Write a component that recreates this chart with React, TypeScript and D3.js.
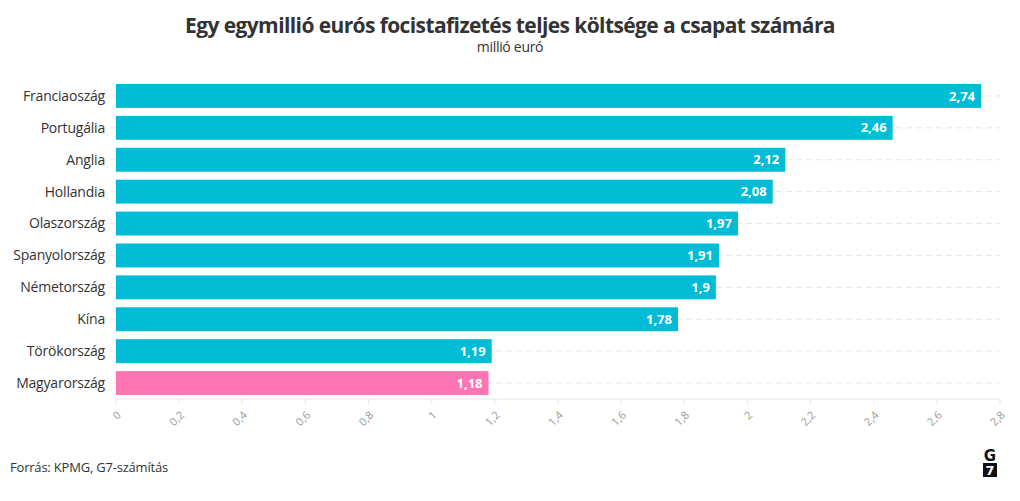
import React from "react";
import * as d3 from "d3";

const categories = ["Franciaoszág", "Portugália", "Anglia", "Hollandia", "Olaszország", "Spanyolország", "Németország", "Kína", "Törökország", "Magyarország"];
const values = [2.74, 2.46, 2.12, 2.08, 1.97, 1.91, 1.9, 1.78, 1.19, 1.18];
const highlight = ["Magyarország"];
const xTicks = [0, 0.2, 0.4, 0.6, 0.8, 1, 1.2, 1.4, 1.6, 1.8, 2, 2.2, 2.4, 2.6, 2.8];

const W = 1020, H = 501;
const left = 116, right = 1000, top = 80, bottom = 399;
const font = "'Source Sans Pro', 'Open Sans', 'Noto Sans', sans-serif";
const fmt = (v: number) => String(v).replace(".", ",");

export default function App() {
  const x = d3.scaleLinear().domain([0, 2.8]).range([left, right]);
  const y = d3.scaleBand<string>().domain(categories).range([top, bottom]).paddingInner(0.25).paddingOuter(0.125);
  return (
    <svg width={W} height={H} style={{ position: "absolute", left: 0, top: 0, background: "#fff" }} fontFamily={font}>
      <text x={510} y={33} textAnchor="middle" fontSize={21} fontWeight={700} fill="#333" letterSpacing={-0.6}>Egy egymillió eurós focistafizetés teljes költsége a csapat számára</text>
      <text x={510} y={52} textAnchor="middle" fontSize={14} fill="#333" letterSpacing={-0.3}>millió euró</text>
      {categories.map((c) => (
        <line key={"g" + c} x1={left} x2={right} y1={y(c)! + y.bandwidth() / 2} y2={y(c)! + y.bandwidth() / 2} stroke="#e6e6e6" strokeDasharray="6,4" />
      ))}
      {categories.map((c) => (
        <line key={"t" + c} x1={left - 6} x2={left} y1={y(c)! + y.bandwidth() / 2} y2={y(c)! + y.bandwidth() / 2} stroke="#ececec" />
      ))}
      <line x1={left} x2={right} y1={bottom} y2={bottom} stroke="#e6e6e6" />
      {xTicks.map((t) => (
        <g key={"x" + t} transform={`translate(${x(t)},${bottom})`}>
          <line y1={0} y2={5} stroke="#e6e6e6" />
          <text transform="translate(3,14) rotate(-45)" textAnchor="end" fontSize={11} fill="#999" dy="0.35em">{fmt(t)}</text>
        </g>
      ))}
      {categories.map((c, i) => (
        <g key={"b" + c}>
          <rect x={x(0)} y={y(c)} width={x(values[i]) - x(0)} height={y.bandwidth()} fill={highlight.includes(c) ? "#ff75b4" : "#00bcd4"} />
          <text x={x(values[i]) - 6} y={y(c)! + y.bandwidth() / 2} dy="0.35em" textAnchor="end" fontSize={13} fontWeight={700} fill="#fff">{fmt(values[i])}</text>
          <text x={left - 11} y={y(c)! + y.bandwidth() / 2} dy="0.35em" textAnchor="end" fontSize={14} fill="#333" letterSpacing={-0.2}>{c}</text>
        </g>
      ))}
      <text x={10} y={472} fontSize={13} fill="#333" letterSpacing={-0.2}>Forrás: KPMG, G7-számítás</text>
      <g transform="translate(982,448)">
        <text x={8} y={13} textAnchor="middle" fontSize={15} fontWeight={900} fill="#111" fontFamily="'DejaVu Sans', sans-serif">G</text>
        <rect x={1} y={15} width={14} height={14} fill="#111" />
        <text x={8} y={27} textAnchor="middle" fontSize={13} fontWeight={900} fill="#fff" fontFamily="'DejaVu Sans', sans-serif">7</text>
      </g>
    </svg>
  );
}
